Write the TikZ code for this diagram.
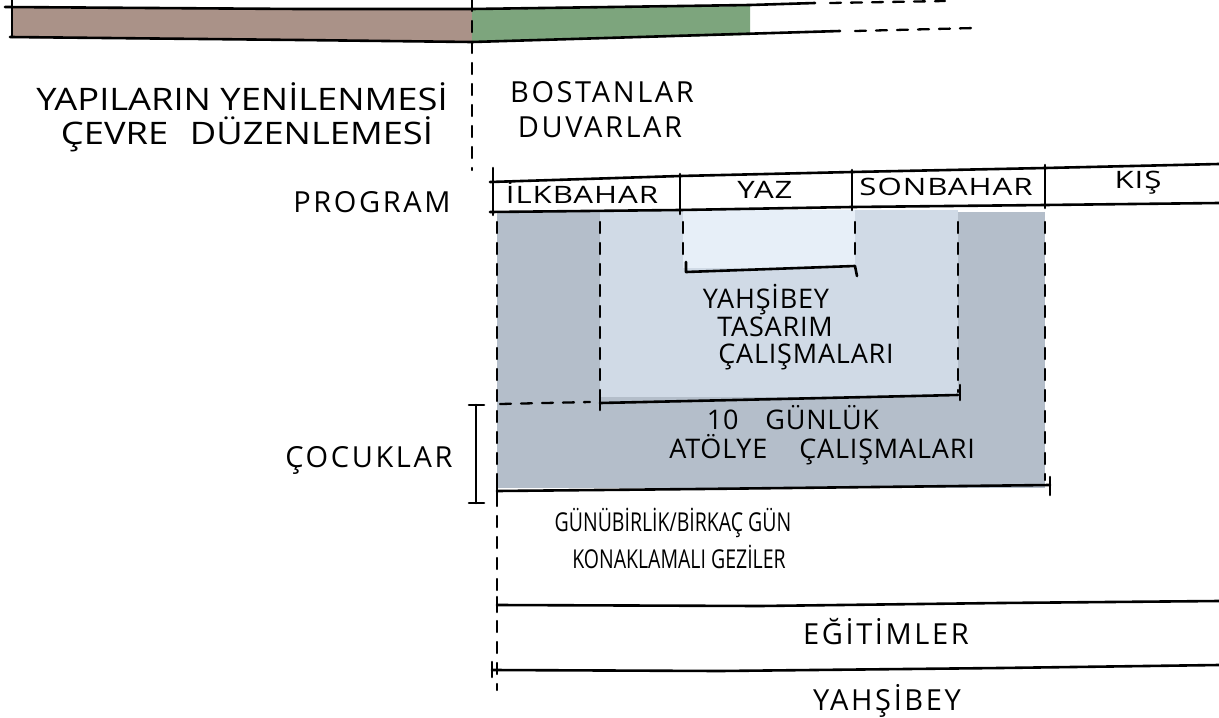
\documentclass[tikz,border=0pt]{standalone}
\usepackage{fontspec}
\setmainfont{Open Sans}
\newfontfamily\handfont[LetterSpace=9]{Open Sans}
\newfontfamily\tightfont[LetterSpace=3]{Open Sans}
\newfontfamily\bigfont[FakeStretch=1.17]{Open Sans}
\newfontfamily\widefont[FakeStretch=1.3,LetterSpace=4]{Open Sans}
\newfontfamily\narrowfont[FakeStretch=0.75]{Open Sans}
\definecolor{brownbar}{RGB}{170,146,136}
\definecolor{greenbar}{RGB}{125,165,125}
\definecolor{darkfill}{RGB}{180,190,202}
\definecolor{midfill}{RGB}{208,218,230}
\definecolor{lightfill}{RGB}{231,239,248}
\begin{document}
\begin{tikzpicture}[x=1pt,y=-1pt,line cap=round,line join=round]
\tikzset{
  hand/.style={line width=2.6pt,black},
  dsh/.style={line width=2.3pt,black,dash pattern=on 11pt off 10pt},
  big/.style={font=\bigfont\fontsize{31}{35}\selectfont,inner sep=0pt,anchor=center},
  mid/.style={font=\handfont\fontsize{29}{33}\selectfont,inner sep=0pt,anchor=center},
  med/.style={font=\tightfont\fontsize{27}{31}\selectfont,inner sep=0pt,anchor=center},
  sml/.style={font=\narrowfont\fontsize{26}{30}\selectfont,inner sep=0pt,anchor=center},
  hdr/.style={font=\widefont\fontsize{24}{28}\selectfont,inner sep=0pt,anchor=center}
}
\useasboundingbox (0,0) rectangle (1219,718);
\fill[white] (0,0) rectangle (1219,718);
% top bar
\fill[brownbar] (12,8) -- (472,10) -- (472,42) -- (12,38) -- cycle;
\fill[greenbar] (472,10) -- (750,6) -- (750,35) -- (472,42) -- cycle;
\draw[hand] (5,7) -- (300,9) -- (472,9) -- (750,5) -- (815,3);
\draw[dsh] (830,3) -- (945,1);
\draw[hand] (10,37) -- (300,40) -- (472,42) -- (840,31);
\draw[dsh] (855,31) -- (975,28);
\draw[hand] (12,0) -- (12,37);
\draw[dsh] (472,0) -- (472,170);
% top labels
\node[big] (yap) at (242,97) {YAPILARIN YENİLENMESİ};
\node[big] (cev) at (247,134) {ÇEVRE\hspace{0.4em} DÜZENLEMESİ};
\node[mid] (bos) at (602,92) {BOSTANLAR};
\node[mid] (duv) at (600,127) {DUVARLAR};
% shaded program areas
\fill[darkfill] (497,212) rectangle (1045,488);
\fill[midfill] (600,210) rectangle (958,397);
\fill[lightfill] (683,210) rectangle (855,268);
% header table
\draw[hand] (490,182) -- (680,176) -- (852,172) -- (1045,168) -- (1219,164);
\draw[hand] (490,212) -- (680,210) -- (852,207) -- (1045,205) -- (1219,203);
\draw[hand] (493,168) -- (493,215);
\draw[hand] (680,174) -- (680,214);
\draw[hand] (852,170) -- (852,210);
\draw[hand] (1045,165) -- (1045,208);
\node[mid] (prog) at (372,202) {PROGRAM};
\node[hdr] (ilk) at (582,193) {İLKBAHAR};
\node[hdr] (yaz) at (765,190) {YAZ};
\node[hdr] (son) at (946,187) {SONBAHAR};
\node[hdr] (kis) at (1138,183) {KIŞ};
% dashed verticals
\draw[dsh] (497,222) -- (497,690);
\draw[dsh] (600,222) -- (600,395);
\draw[dsh] (683,222) -- (683,262);
\draw[dsh] (855,222) -- (855,262);
\draw[dsh] (958,222) -- (958,392);
\draw[dsh] (1045,222) -- (1045,480);
% brackets
\draw[hand] (686,262) -- (686,272) -- (855,266) -- (857,276);
\draw[hand] (600,395) -- (600,410);
\draw[hand] (600,403) -- (958,395);
\draw[hand] (960,385) -- (960,400);
\draw[dsh] (500,404) -- (590,402);
\draw[hand] (497,485) -- (497,500);
\draw[hand] (497,491) -- (700,489) -- (1050,485);
\draw[hand] (1050,477) -- (1050,495);
\draw[hand] (476,405) -- (476,503);
\draw[hand] (469,405) -- (484,405);
\draw[hand] (469,503) -- (484,503);
% inner labels
\node[med] (yah1) at (766,300) {YAHŞİBEY};
\node[med] (tas) at (775,327) {TASARIM};
\node[med] (cal) at (806,357) {ÇALIŞMALARI};
\node[med] (gun) at (793,418) {10 \hspace{0.7em}GÜNLÜK};
\node[med] (ato) at (822,450) {ATÖLYE \hspace{0.9em}ÇALIŞMALARI};
\node[mid] (coc) at (369,460) {ÇOCUKLAR};
\node[sml] (gez1) at (673,523) {GÜNÜBİRLİK/BİRKAÇ GÜN};
\node[sml] (gez2) at (679,557) {KONAKLAMALI GEZİLER};
% lower bands
\draw[hand] (497,597) -- (497,612);
\draw[hand] (497,605) -- (760,606) -- (1000,603) -- (1219,601);
\node[mid] (egi) at (886,632) {EĞİTİMLER};
\draw[hand] (492,662) -- (492,677);
\draw[hand] (492,670) -- (720,671) -- (1000,668) -- (1219,665);
\node[mid] (yah2) at (887,701) {YAHŞİBEY};
\end{tikzpicture}
\end{document}
